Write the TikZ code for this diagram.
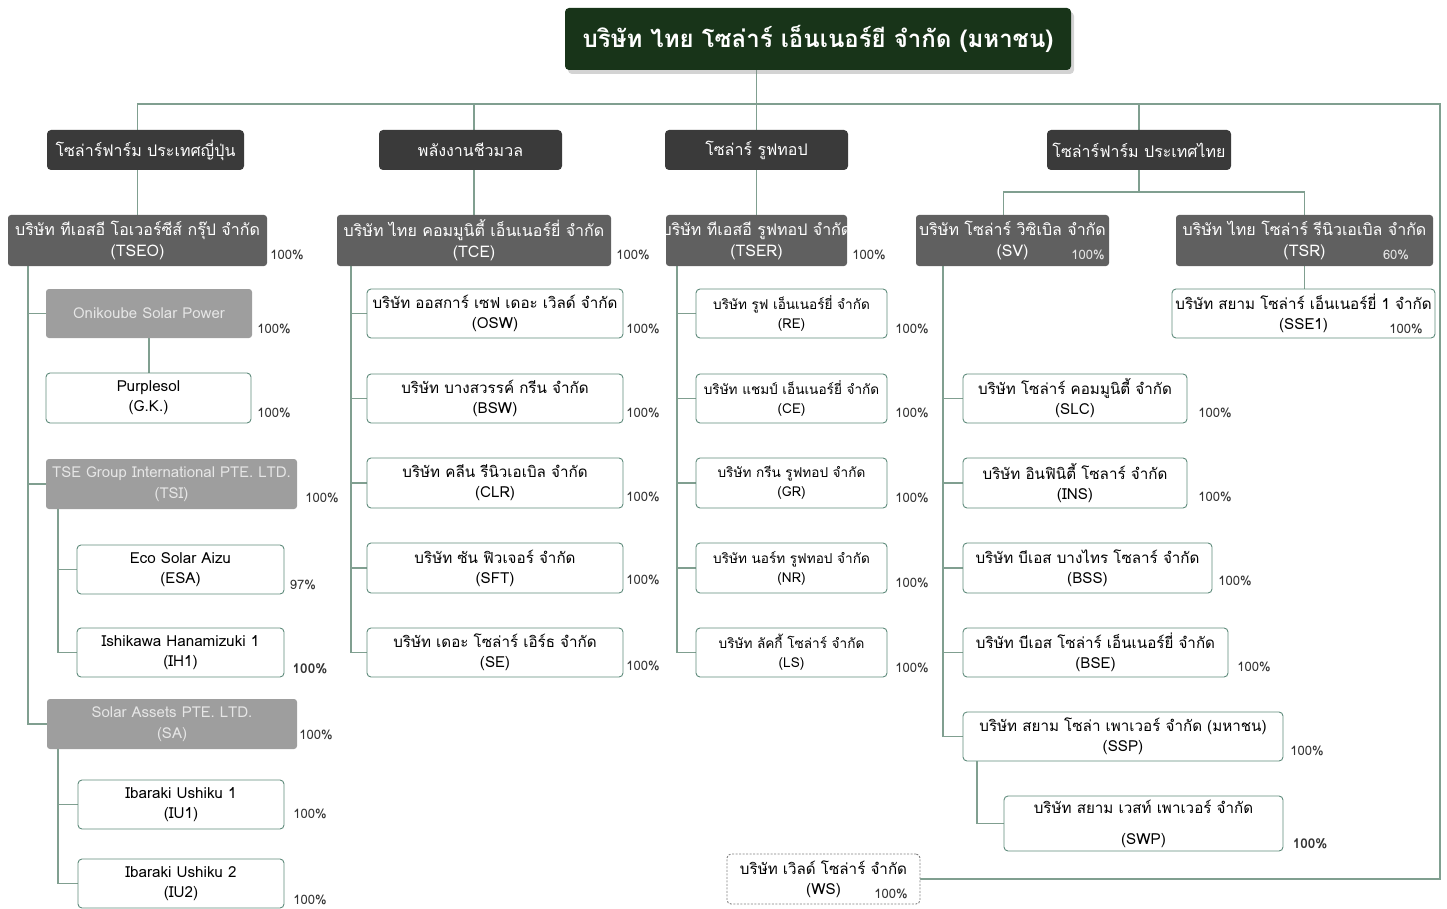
\documentclass[tikz,border=0pt]{standalone}
\usepackage{fontspec}
\setmainfont[Script=Thai]{Loma}
\usetikzlibrary{shadows,backgrounds}
\definecolor{topgreen}{HTML}{183419}
\definecolor{catgray}{HTML}{3A3A3A}
\definecolor{midgray}{HTML}{606060}
\definecolor{litegray}{HTML}{9E9E9E}
\definecolor{litetext}{HTML}{E6E6E6}
\definecolor{lineclr}{HTML}{809F90}
\definecolor{boxborder}{HTML}{5F8B7B}
\definecolor{pcttext}{HTML}{333333}
\tikzset{
  conn/.style={draw=lineclr, line width=1.1pt},
  topbox/.style={fill=topgreen, rounded corners=4pt, text=white, inner sep=0pt,
    font=\fontsize{24}{28}\selectfont\bfseries,
    drop shadow={shadow xshift=3pt, shadow yshift=-4pt, opacity=0.35}},
  catbox/.style={fill=catgray, rounded corners=4pt, text=white, inner sep=0pt,
    minimum height=40pt, font=\fontsize{16}{18}\selectfont},
  midbox/.style={fill=midgray, rounded corners=3pt, text=white, inner sep=0pt, align=center,
    minimum height=51pt, font=\fontsize{16}{21}\selectfont},
  litebox/.style={fill=litegray, rounded corners=3pt, text=litetext, inner sep=0pt, align=center,
    minimum height=50pt, font=\fontsize{15}{21}\selectfont},
  leafbox/.style={draw=boxborder, fill=white, rounded corners=4pt, line width=0.9pt, inner sep=0pt,
    align=center, minimum height=49pt, font=\fontsize{15.2}{20}\selectfont},
  smleaf/.style={leafbox, font=\fontsize{13.6}{19}\selectfont},
  wsbox/.style={leafbox, dashed, dash pattern=on 2pt off 1.5pt, draw=gray},
  pct/.style={inner sep=0pt, text=pcttext, font=\fontsize{13}{14}\selectfont},
  pctb/.style={pct, font=\fontsize{13.5}{14}\selectfont\bfseries},
  pctin/.style={pct, text=litetext},
}
\begin{document}
\begin{tikzpicture}[x=1pt,y=-1pt]
\useasboundingbox (0,0) rectangle (1447,909);
% top
\node[topbox, minimum width=506pt, minimum height=62pt] (top) at (818,39) {บริษัท ไทย โซล่าร์ เอ็นเนอร์ยี จำกัด (มหาชน)};
% categories
\node[catbox, minimum width=197pt] (jp) at (145.5,150) {โซล่าร์ฟาร์ม ประเทศญี่ปุ่น};
\node[catbox, minimum width=183pt] (bio) at (470.5,150) {พลังงานชีวมวล};
\node[catbox, minimum width=183pt] (rt) at (756.5,150) {โซล่าร์ รูฟทอป};
\node[catbox, minimum width=184pt] (th) at (1139,150) {โซล่าร์ฟาร์ม ประเทศไทย};
% level 2
\node[midbox, minimum width=259pt] (tseo) at (137.5,240.5) {บริษัท ทีเอสอี โอเวอร์ซีส์ กรุ๊ป จำกัด\\(TSEO)};
\node[midbox, minimum width=274pt] (tce) at (474,240.5) {บริษัท ไทย คอมมูนิตี้ เอ็นเนอร์ยี่ จำกัด\\(TCE)};
\node[midbox, minimum width=181pt, path picture={
    \node[text=white, align=center, inner sep=0pt, font=\fontsize{16}{21}\selectfont]
      at (path picture bounding box.center) {บริษัท ทีเอสอี รูฟทอป จำกัด\\(TSER)};}] (tser) at (756.5,240.5) {};
\node[midbox, minimum width=193pt] (sv) at (1012.5,240.5) {บริษัท โซล่าร์ วิซิเบิล จำกัด\\(SV)};
\node[midbox, minimum width=257pt] (tsr) at (1304.5,240.5) {บริษัท ไทย โซล่าร์ รีนิวเอเบิล จำกัด\\(TSR)};
\node[pct] (p-tseo) at (287,255) {100\%};
\node[pct] (p-tce) at (633,255) {100\%};
\node[pct] (p-tser) at (869,255) {100\%};
\node[pctin] (p-sv) at (1088,255) {100\%};
\node[pctin] (p-tsr) at (1396,255) {60\%};
% japan
\node[litebox, minimum width=206pt, minimum height=49pt] (oni) at (149,313.5) {Onikoube Solar Power};
\node[leafbox, minimum width=205pt, minimum height=50pt] (purp) at (148.5,398) {Purplesol\\(G.K.)};
\node[litebox, minimum width=251pt] (tsi) at (171.5,484) {TSE Group International PTE. LTD.\\(TSI)};
\node[leafbox, minimum width=207pt] (esa) at (180.5,569.5) {Eco Solar Aizu\\(ESA)};
\node[leafbox, minimum width=207pt] (ih1) at (180.5,652.5) {Ishikawa Hanamizuki 1\\(IH1)};
\node[litebox, minimum width=250pt] (sa) at (172,724) {Solar Assets PTE. LTD.\\(SA)};
\node[leafbox, minimum width=206pt] (iu1) at (181,804.5) {Ibaraki Ushiku 1\\(IU1)};
\node[leafbox, minimum width=206pt] (iu2) at (181,883.5) {Ibaraki Ushiku 2\\(IU2)};
\node[pct] (p-oni) at (274,329) {100\%};
\node[pct] (p-purp) at (274,413) {100\%};
\node[pct] (p-tsi) at (322,498) {100\%};
\node[pct] (p-esa) at (303,585) {97\%};
\node[pctb] (p-ih1) at (310,669) {100\%};
\node[pct] (p-sa) at (316,735) {100\%};
\node[pct] (p-iu1) at (310,814) {100\%};
\node[pct] (p-iu2) at (310,900) {100\%};
% biomass
\node[leafbox, minimum width=256pt] (osw) at (495,313.5) {บริษัท  ออสการ์ เซฟ เดอะ เวิลด์ จำกัด\\(OSW)};
\node[leafbox, minimum width=256pt] (bsw) at (495,398.5) {บริษัท บางสวรรค์ กรีน จำกัด\\(BSW)};
\node[leafbox, minimum width=256pt, minimum height=50pt] (clr) at (495,483) {บริษัท คลีน รีนิวเอเบิล จำกัด\\(CLR)};
\node[leafbox, minimum width=256pt, minimum height=50pt] (sft) at (495,568) {บริษัท ซัน ฟิวเจอร์ จำกัด\\(SFT)};
\node[leafbox, minimum width=256pt] (se) at (495,652.5) {บริษัท เดอะ โซล่าร์ เอิร์ธ จำกัด\\(SE)};
\node[pct] (p-osw) at (643,329) {100\%};
\node[pct] (p-bsw) at (643,413) {100\%};
\node[pct] (p-clr) at (643,497) {100\%};
\node[pct] (p-sft) at (643,580) {100\%};
\node[pct] (p-se) at (643,666) {100\%};
% rooftop
\node[smleaf, minimum width=191pt] (re) at (791.5,313.5) {บริษัท รูฟ เอ็นเนอร์ยี่ จำกัด\\(RE)};
\node[smleaf, minimum width=191pt] (ce) at (791.5,398.5) {บริษัท แชมป์ เอ็นเนอร์ยี่ จำกัด\\(CE)};
\node[smleaf, minimum width=191pt, minimum height=50pt] (gr) at (791.5,483) {บริษัท กรีน รูฟทอป จำกัด\\(GR)};
\node[smleaf, minimum width=191pt, minimum height=50pt] (nr) at (791.5,568) {บริษัท นอร์ท รูฟทอป จำกัด\\(NR)};
\node[smleaf, minimum width=191pt] (ls) at (791.5,652.5) {บริษัท ลัคกี้ โซล่าร์ จำกัด\\(LS)};
\node[pct] (p-re) at (912,329) {100\%};
\node[pct] (p-ce) at (912,413) {100\%};
\node[pct] (p-gr) at (912,498) {100\%};
\node[pct] (p-nr) at (912,583) {100\%};
\node[pct] (p-ls) at (912,668) {100\%};
% thailand
\node[leafbox, minimum width=263pt] (sse1) at (1303.5,313.5) {บริษัท สยาม โซล่าร์ เอ็นเนอร์ยี่ 1 จำกัด\\(SSE1)};
\node[pct] (p-sse1) at (1406,329) {100\%};
\node[leafbox, minimum width=224pt] (slc) at (1075,398.5) {บริษัท โซล่าร์ คอมมูนิตี้ จำกัด\\(SLC)};
\node[leafbox, minimum width=224pt, minimum height=50pt] (ins) at (1075,483) {บริษัท อินฟินิตี้ โซลาร์ จำกัด\\(INS)};
\node[leafbox, minimum width=249pt, minimum height=50pt] (bss) at (1087.5,568) {บริษัท บีเอส บางไทร โซลาร์ จำกัด\\(BSS)};
\node[leafbox, minimum width=265pt] (bse) at (1095.5,652.5) {บริษัท บีเอส โซล่าร์ เอ็นเนอร์ยี่ จำกัด\\(BSE)};
\node[leafbox, minimum width=320pt] (ssp) at (1123,736.5) {บริษัท สยาม โซล่า เพาเวอร์ จำกัด (มหาชน)\\(SSP)};
\node[leafbox, minimum width=279pt, minimum height=55pt, font=\fontsize{15.2}{31}\selectfont] (swp) at (1143.5,823.5) {บริษัท สยาม เวสท์ เพาเวอร์ จำกัด\\(SWP)};
\node[pct] (p-slc) at (1215,413) {100\%};
\node[pct] (p-ins) at (1215,497) {100\%};
\node[pct] (p-bss) at (1235,581) {100\%};
\node[pct] (p-bse) at (1254,667) {100\%};
\node[pct] (p-ssp) at (1307,751) {100\%};
\node[pctb] (p-swp) at (1310,844) {100\%};
\node[wsbox, minimum width=193pt, minimum height=50pt] (ws) at (823.5,879) {บริษัท เวิลด์ โซล่าร์ จำกัด\\(WS)\hspace{40pt}};
\node[pct] (p-ws) at (891,894) {100\%};
% coordinates
\coordinate (bus) at (0,104);
\coordinate (edge) at (1440,879);
\coordinate (thsplit) at (1003.5,192);
\coordinate (jtr) at (28,0);
\coordinate (tsitr) at (58,0);
\coordinate (satr) at (58,0);
\coordinate (tcetr) at (351,0);
\coordinate (tsertr) at (677,0);
\coordinate (svtr) at (943,0);
\coordinate (ssptr) at (977,0);
\begin{scope}[on background layer]
\draw[conn] (top.south -| rt) -- (rt.north);
\draw[conn] (tseo.north |- jp.north) -- (tseo |- bus) -- (bus -| edge) -- (edge) -- (ws.east);
\draw[conn] (jp.south -| tseo) -- (tseo.north);
\draw[conn] (tce |- bus) -- (tce.north);
\draw[conn] (rt.south) -- (tser.north);
\draw[conn] (th |- bus) -- (th.north);
\draw[conn] (th.south) -- (th.south |- thsplit);
\draw[conn] (thsplit |- sv.north) -- (thsplit) -- (thsplit -| tsr) -- (tsr.north);
\draw[conn] (tsr.south) -- (tsr.south |- sse1.north);
% japan
\draw[conn] (jtr |- tseo.south) |- (sa.west);
\draw[conn] (jtr |- oni.west) -- (oni.west);
\draw[conn] (jtr |- tsi.west) -- (tsi.west);
\draw[conn] (oni.south) -- (oni.south |- purp.north);
\draw[conn] (tsitr |- tsi.south) |- (ih1.west);
\draw[conn] (tsitr |- esa.west) -- (esa.west);
\draw[conn] (satr |- sa.south) |- (iu2.west);
\draw[conn] (satr |- iu1.west) -- (iu1.west);
% biomass
\draw[conn] (tcetr |- tce.south) |- (se.west);
\foreach \n in {osw,bsw,clr,sft} \draw[conn] (tcetr |- \n.west) -- (\n.west);
% rooftop
\draw[conn] (tsertr |- tser.south) |- (ls.west);
\foreach \n in {re,ce,gr,nr} \draw[conn] (tsertr |- \n.west) -- (\n.west);
% thailand
\draw[conn] (svtr |- sv.south) |- (ssp.west);
\foreach \n in {slc,ins,bss,bse} \draw[conn] (svtr |- \n.west) -- (\n.west);
\draw[conn] (ssptr |- ssp.south) |- (swp.west);
\end{scope}
\end{tikzpicture}
\end{document}
